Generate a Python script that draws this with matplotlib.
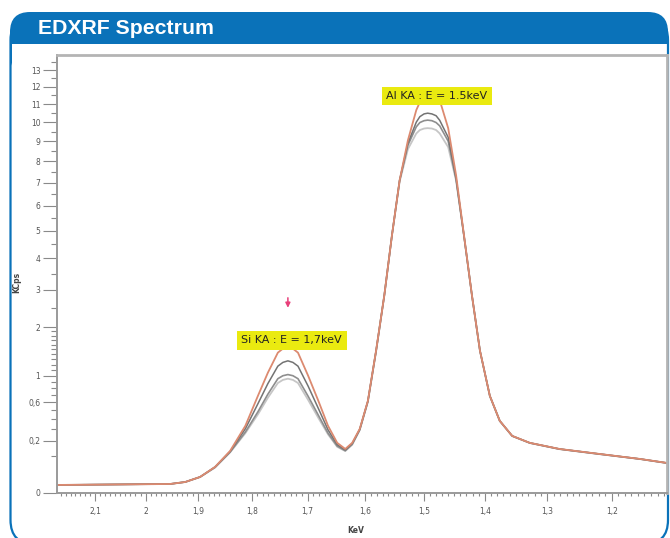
import numpy as np
import matplotlib
matplotlib.use("Agg")
import matplotlib.pyplot as plt
from matplotlib.patches import FancyBboxPatch, Rectangle
from matplotlib.transforms import IdentityTransform
from matplotlib.ticker import FixedLocator

energy_kev = [2.178, 1.953, 1.924, 1.896, 1.868, 1.840, 1.812, 1.789, 1.771, 1.753,
              1.744, 1.735, 1.726, 1.717, 1.699, 1.681, 1.664, 1.648, 1.634, 1.622,
              1.609, 1.595, 1.581, 1.567, 1.554, 1.541, 1.527, 1.513, 1.507, 1.500,
              1.494, 1.487, 1.480, 1.474, 1.460, 1.447, 1.434, 1.421, 1.408, 1.392,
              1.376, 1.356, 1.328, 1.281, 1.219, 1.157, 1.116]

kcps_orange = [0.0047, 0.0059, 0.0088, 0.0187, 0.0494, 0.129, 0.328, 0.687, 1.052, 1.432,
               1.515, 1.557, 1.515, 1.432, 1.0, 0.618, 0.328, 0.183, 0.141, 0.183,
               0.299, 0.618, 1.473, 2.835, 4.825, 7.11, 9.05, 10.66, 11.11, 11.46,
               11.63, 11.69, 11.51, 11.22, 9.68, 7.34, 4.825, 2.835, 1.473, 0.687,
               0.379, 0.237, 0.183, 0.141, 0.111, 0.0844, 0.0657]

kcps_gray1 = [0.0047, 0.0059, 0.0088, 0.0187, 0.0494, 0.125, 0.30, 0.58, 0.87, 1.17,
              1.24, 1.27, 1.24, 1.17, 0.83, 0.52, 0.29, 0.17, 0.135, 0.178,
              0.295, 0.615, 1.47, 2.835, 4.825, 7.11, 8.9, 10.0, 10.3, 10.45,
              10.49, 10.45, 10.35, 10.1, 9.2, 7.2, 4.8, 2.835, 1.473, 0.687,
              0.379, 0.237, 0.183, 0.141, 0.111, 0.0844, 0.0657]

kcps_gray2 = [0.0047, 0.0059, 0.0088, 0.0187, 0.048, 0.122, 0.27, 0.48, 0.71, 0.95,
              1.00, 1.02, 1.00, 0.95, 0.68, 0.44, 0.26, 0.16, 0.13, 0.172,
              0.29, 0.61, 1.46, 2.83, 4.82, 7.1, 8.8, 9.75, 9.98, 10.08,
              10.11, 10.08, 9.98, 9.8, 9.0, 7.15, 4.8, 2.83, 1.47, 0.685,
              0.378, 0.236, 0.182, 0.14, 0.11, 0.084, 0.065]

kcps_gray3 = [0.0047, 0.0059, 0.0088, 0.0185, 0.047, 0.12, 0.26, 0.45, 0.66, 0.88,
              0.93, 0.95, 0.93, 0.88, 0.63, 0.41, 0.25, 0.155, 0.128, 0.17,
              0.288, 0.605, 1.455, 2.83, 4.82, 7.05, 8.6, 9.4, 9.58, 9.66,
              9.68, 9.66, 9.58, 9.4, 8.7, 7.1, 4.8, 2.83, 1.47, 0.685,
              0.378, 0.236, 0.182, 0.14, 0.11, 0.084, 0.065]

x_ticks = [2.1, 2.0, 1.9, 1.8, 1.7, 1.6, 1.5, 1.4, 1.3, 1.2]
x_ticklabels = ["2,1", "2", "1,9", "1,8", "1,7", "1,6", "1,5", "1,4", "1,3", "1,2"]
y_ticks = [0, 0.2, 0.6, 1, 2, 3, 4, 5, 6, 7, 8, 9, 10, 11, 12, 13]
y_ticklabels = ["0", "0,2", "0,6", "1", "2", "3", "4", "5", "6", "7", "8", "9",
                "10", "11", "12", "13"]

peak_labels = [("Si KA : E = 1,7keV", 1.728, 1.70),
               ("Al KA : E = 1.5keV", 1.4785, 11.46)]

W, H = 670, 538
BLUE = "#0a72b9"


# eje X no lineal (como en el equipo)
def _fwd_x(e):
    u = 2.1 - np.asarray(e, dtype=float)
    return -(497.0 * u + 86.0 * u ** 2)


def _inv_x(t):
    t = np.asarray(t, dtype=float)
    disc = np.clip(497.0 ** 2 - 344.0 * t, 0, None)
    u = (-497.0 + np.sqrt(disc)) / 172.0
    return 2.1 - u


def _fwd_y(v):
    return np.sqrt(np.clip(np.asarray(v, dtype=float), 0, None))


def _inv_y(v):
    return np.asarray(v, dtype=float) ** 2


def main() -> None:
    fig = plt.figure(figsize=(W / 100, H / 100), dpi=100)
    fig.patch.set_facecolor("white")
    ident = IdentityTransform()

    # cabecera azul + marco redondeado
    head = FancyBboxPatch((10, H - 75), 658, 63, boxstyle="round,pad=0,rounding_size=20",
                          transform=ident, facecolor=BLUE, edgecolor="none", zorder=-3)
    fig.patches.append(head)
    blank = Rectangle((11.5, H - 75), 655, 31.5, transform=ident, facecolor="white",
                      edgecolor="none", zorder=-2)
    fig.patches.append(blank)
    frame = FancyBboxPatch((10.5, -6), 657.5, H - 10, boxstyle="round,pad=0,rounding_size=24",
                           transform=ident, facecolor="none", edgecolor=BLUE, lw=1.6,
                           zorder=-1)
    fig.patches.append(frame)
    fig.text(38 / W, 1 - 29 / H, "EDXRF Spectrum", color="white", fontsize=15.3,
             fontweight="bold", family="Liberation Sans", va="center", ha="left")

    ax = fig.add_axes([57 / W, (H - 493) / H, (667 - 57) / W, (493 - 55) / H])
    ax.set_xscale("function", functions=(_fwd_x, _inv_x))
    ax.set_yscale("function", functions=(_fwd_y, _inv_y))

    ax.plot(energy_kev, kcps_gray3, color="#c6c6c6", lw=1.3)
    ax.plot(energy_kev, kcps_gray2, color="#8e8e8e", lw=1.2)
    ax.plot(energy_kev, kcps_gray1, color="#737373", lw=1.1)
    ax.plot(energy_kev, kcps_orange, color="#dc8a70", lw=1.3)

    ax.set_xlim(2.178, 1.116)
    ax.set_ylim(0, 13.95)

    ax.xaxis.set_major_locator(FixedLocator(x_ticks))
    ax.set_xticklabels(x_ticklabels)
    ax.xaxis.set_minor_locator(FixedLocator(np.round(np.arange(1.12, 2.18, 0.01), 2)))
    ax.yaxis.set_major_locator(FixedLocator(y_ticks))
    ax.set_yticklabels(y_ticklabels)
    ax.yaxis.set_minor_locator(FixedLocator(list(np.round(np.arange(0.1, 2.0, 0.1), 2))
                                            + list(np.arange(2.5, 13.6, 0.5))))

    ax.tick_params(axis="both", which="both", colors="#8a8a8a", labelcolor="#555555",
                   labelsize=5.5, direction="out", width=0.8)
    ax.tick_params(axis="x", which="major", length=6, pad=4)
    ax.tick_params(axis="x", which="minor", length=2.5)
    ax.tick_params(axis="y", which="major", length=10, pad=2)
    ax.tick_params(axis="y", which="minor", length=4)

    for side in ("left", "bottom"):
        ax.spines[side].set_color("#9a9a9a")
        ax.spines[side].set_linewidth(1.4)
    for side in ("top", "right"):
        ax.spines[side].set_color("#b4b4b4")
        ax.spines[side].set_linewidth(2.0)

    ax.set_ylabel("KCps", fontsize=5.5, fontweight="bold", color="#444444", labelpad=4)
    ax.yaxis.set_label_coords(-0.058, 0.48)
    ax.set_xlabel("KeV", fontsize=5.5, fontweight="bold", color="#444444")
    ax.xaxis.set_label_coords(0.49, -0.075)

    for txt, ex, ey in peak_labels:
        ax.text(ex, ey, txt, fontsize=8, color="#222222", ha="center", va="center",
                bbox=dict(boxstyle="square,pad=0.4", facecolor="#eaea10", edgecolor="none"))

    # flecha rosa sobre el pico de Si
    ax.annotate("", xy=(1.735, 2.42), xytext=(1.735, 2.85),
                arrowprops=dict(arrowstyle="-|>", color="#e8407a", lw=1.1,
                                mutation_scale=7))

    fig.savefig("out.png", dpi=100, facecolor="white")
    plt.close(fig)


if __name__ == "__main__":
    main()
